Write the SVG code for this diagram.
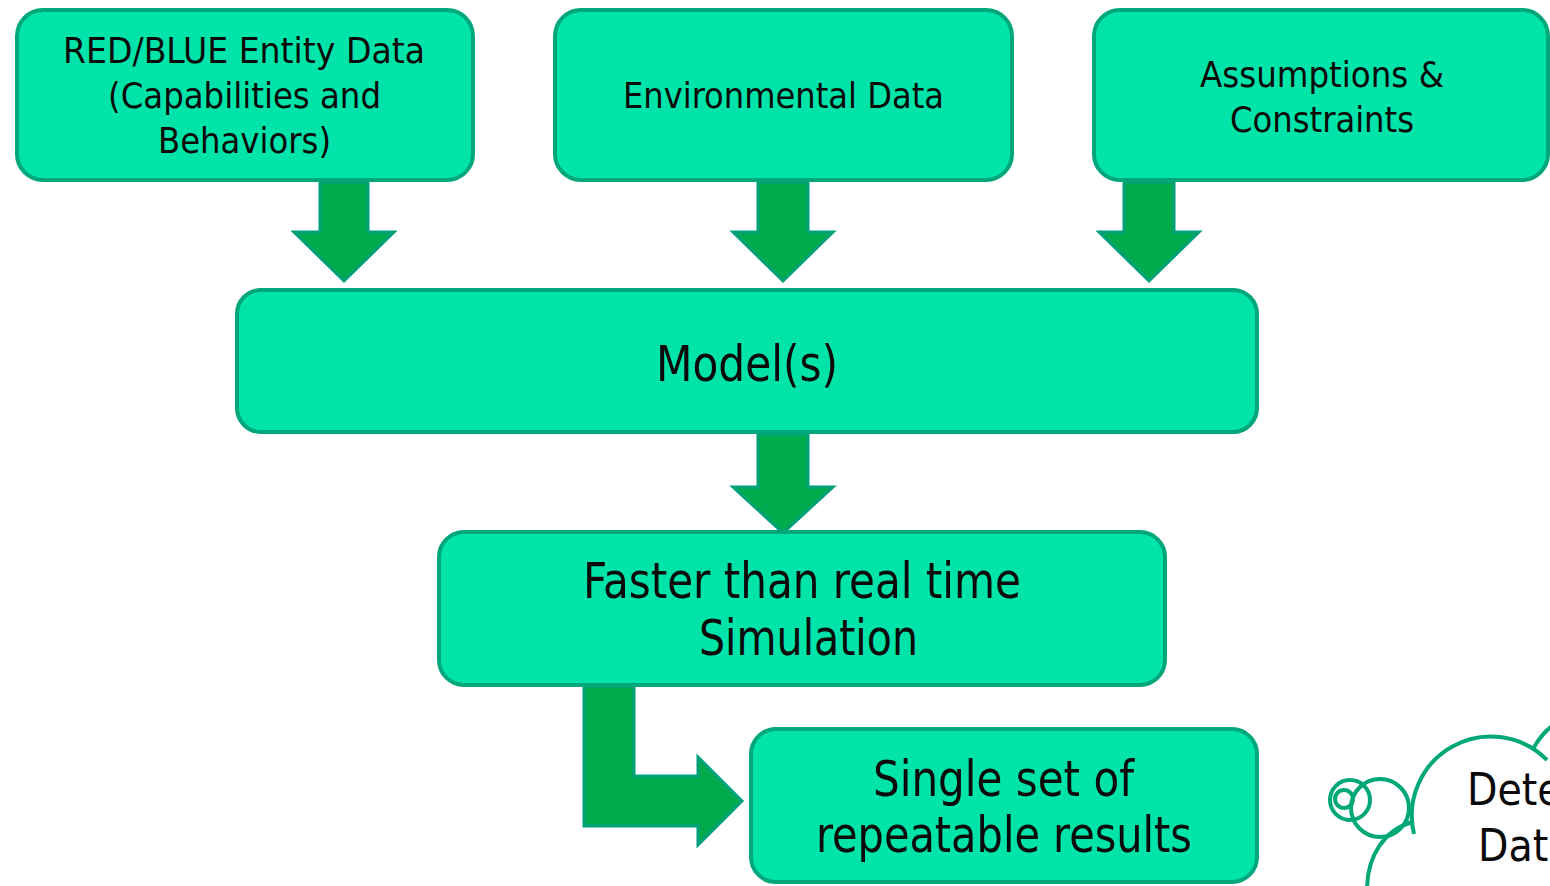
<svg xmlns="http://www.w3.org/2000/svg" width="1550" height="886" viewBox="0 0 1550 886">
<style>
.box{fill:#00E4A9;stroke:#00A77A;stroke-width:4}
.arr{fill:#00AB4E;stroke:#00A07A;stroke-width:3;stroke-linejoin:miter}
.t{font-family:"DejaVu Sans Condensed","DejaVu Sans",sans-serif;fill:#0a0a0a;text-anchor:middle}
.s36{font-size:36px}
.s50{font-size:50px}
.cloud{fill:none;stroke:#00A878;stroke-width:4}
</style>
<rect width="1550" height="886" fill="#ffffff"/>
<g id="connectors">
<polygon class="arr" points="320,182 368,182 368,232 394,232 344,281 294,232 320,232"/>
<polygon class="arr" points="758,182 808,182 808,232 833,232 783,281 733,232 758,232"/>
<polygon class="arr" points="1124,182 1174,182 1174,232 1199,232 1149,281 1099,232 1124,232"/>
<polygon class="arr" points="758,434 808,434 808,487 833,487 783,533 733,487 758,487"/>
<polygon class="arr" points="584,686 634,686 634,776 698,776 698,757 742,801 698,845 698,826 584,826"/>
</g>
<g id="entity">
<rect class="box" x="17" y="10" width="456" height="170" rx="26"/>
<text class="t s36" x="244" y="63" textLength="362" lengthAdjust="spacingAndGlyphs">RED/BLUE Entity Data</text>
<text class="t s36" x="244.5" y="108" textLength="273" lengthAdjust="spacingAndGlyphs">(Capabilities and</text>
<text class="t s36" x="244.5" y="153" textLength="173" lengthAdjust="spacingAndGlyphs">Behaviors)</text>
</g>
<g id="environmental">
<rect class="box" x="555" y="10" width="457" height="170" rx="26"/>
<text class="t s36" x="783.5" y="108" textLength="321" lengthAdjust="spacingAndGlyphs">Environmental Data</text>
</g>
<g id="assumptions">
<rect class="box" x="1094" y="10" width="454" height="170" rx="26"/>
<text class="t s36" x="1322" y="87" textLength="244" lengthAdjust="spacingAndGlyphs">Assumptions &amp;</text>
<text class="t s36" x="1322" y="132" textLength="184" lengthAdjust="spacingAndGlyphs">Constraints</text>
</g>
<g id="models">
<rect class="box" x="237" y="290" width="1020" height="142" rx="24"/>
<text class="t s50" x="747" y="381" textLength="182" lengthAdjust="spacingAndGlyphs">Model(s)</text>
</g>
<g id="simulation">
<rect class="box" x="439" y="532" width="726" height="153" rx="25"/>
<text class="t s50" x="802" y="598" textLength="438" lengthAdjust="spacingAndGlyphs">Faster than real time</text>
<text class="t s50" x="808.5" y="655" textLength="219" lengthAdjust="spacingAndGlyphs">Simulation</text>
</g>
<g id="results">
<rect class="box" x="751" y="729" width="506" height="153" rx="25"/>
<text class="t s50" x="1003.5" y="796" textLength="261" lengthAdjust="spacingAndGlyphs">Single set of</text>
<text class="t s50" x="1004" y="852" textLength="376" lengthAdjust="spacingAndGlyphs">repeatable results</text>
</g>
<g id="cloud">
<circle class="cloud" cx="1344" cy="799" r="9"/>
<circle class="cloud" cx="1350" cy="800" r="20"/>
<circle class="cloud" cx="1380" cy="808" r="29"/>
<path class="cloud" d="M1367,890 C1367,855 1385,830 1412,822"/>
<path class="cloud" d="M1414,834 A79,79 0 0 1 1547,760"/>
<path class="cloud" d="M1533,749 C1538,740 1544,732 1552,726"/>
<text class="t" style="font-size:44px;text-anchor:start" x="1467" y="805">Dete</text>
<text class="t" style="font-size:44px;text-anchor:start" x="1478" y="861">Dat</text>
</g>
</svg>
